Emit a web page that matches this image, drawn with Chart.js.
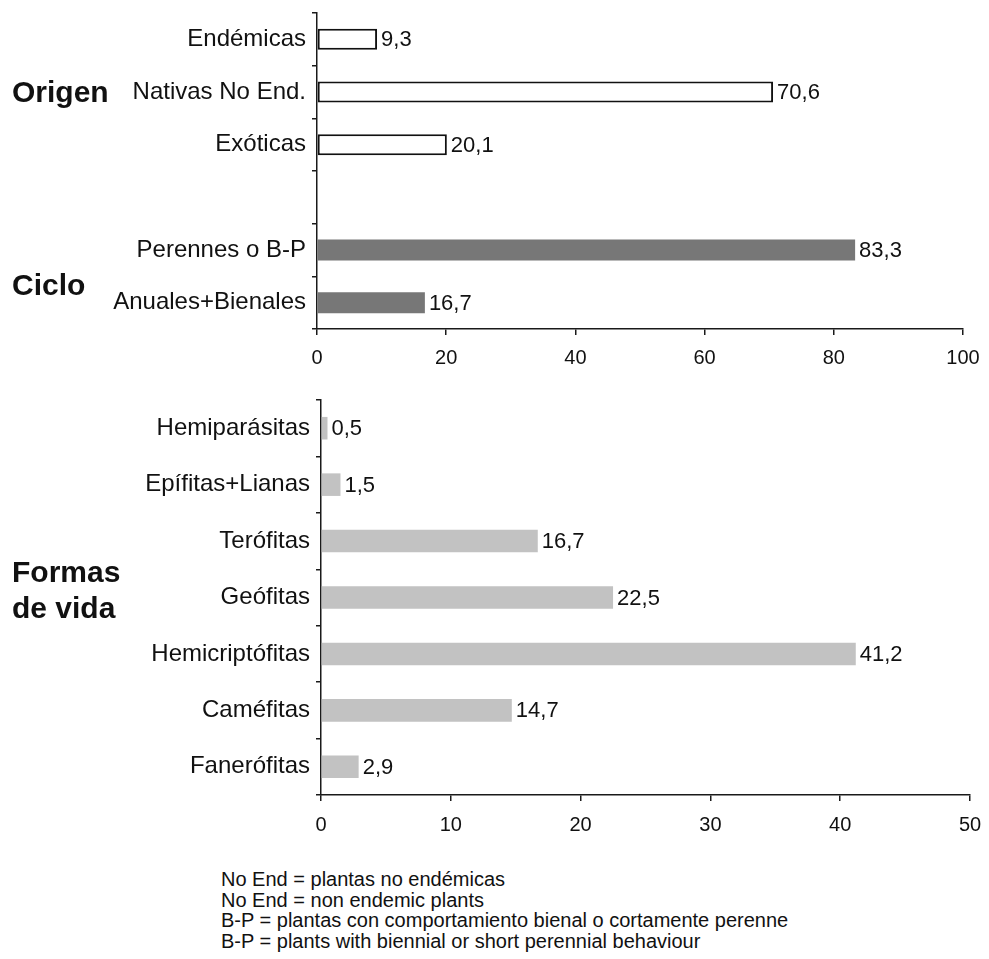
<!DOCTYPE html>
<html>
<head>
<meta charset="utf-8">
<script src="https://cdn.jsdelivr.net/npm/chart.js@4"></script>
<style>
  html, body { margin: 0; padding: 0; background: #fff; }
  body { width: 989px; height: 959px; position: relative; overflow: hidden;
         font-family: "Liberation Sans", Arial, sans-serif; color: #111; }
  .wrap { position: absolute; left: 0; }
  .group { position: absolute; left: 12px; font-weight: bold; font-size: 30px; line-height: 36px; color: #111; }
  .notes { position: absolute; left: 221px; top: 869px; font-size: 20px; line-height: 20.7px; color: #111; white-space: nowrap; }
</style>
</head>
<body>
<div class="wrap" style="top:0;"><canvas id="c1" width="989" height="380"></canvas></div>
<div class="wrap" style="top:380px;"><canvas id="c2" width="989" height="480"></canvas></div>
<div class="group" style="top:74px;">Origen</div>
<div class="group" style="top:267px;">Ciclo</div>
<div class="group" style="top:554px;">Formas<br>de vida</div>
<div class="notes">
No End = plantas no endémicas<br>
No End = non endemic plants<br>
B-P = plantas con comportamiento bienal o cortamente perenne<br>
B-P = plants with biennial or short perennial behaviour
</div>
<script>
// ---- data ----
const topCategories = ['Endémicas', 'Nativas No End.', 'Exóticas', '', 'Perennes o B-P', 'Anuales+Bienales'];
const topValues = [9.3, 70.6, 20.1, null, 83.3, 16.7];
const topTicks = [0, 20, 40, 60, 80, 100];

const lifeCategories = ['Hemiparásitas', 'Epífitas+Lianas', 'Terófitas', 'Geófitas', 'Hemicriptófitas', 'Caméfitas', 'Fanerófitas'];
const lifeValues = [0.5, 1.5, 16.7, 22.5, 41.2, 14.7, 2.9];
const lifeTicks = [0, 10, 20, 30, 40, 50];

const FONT = '"Liberation Sans", Arial, sans-serif';
const AX = '#1a1a1a';

const valueLabels = {
  id: 'valueLabels',
  afterDatasetsDraw(chart) {
    const ctx = chart.ctx;
    ctx.save();
    ctx.font = '22px ' + FONT;
    ctx.fillStyle = '#111';
    ctx.textAlign = 'left';
    ctx.textBaseline = 'middle';
    chart.data.datasets.forEach((ds, di) => {
      chart.getDatasetMeta(di).data.forEach((el, i) => {
        const v = ds.data[i];
        if (v === null || v === undefined) return;
        ctx.fillText(String(v).replace('.', ','), el.x + 4, el.y + 1);
      });
    });
    ctx.restore();
  }
};

function makeOptions(ticks, yWidth, xHeight, padTop, padRight, xPad) {
  return {
    responsive: false,
    animation: false,
    indexAxis: 'y',
    layout: { padding: { top: padTop, right: padRight, left: 0, bottom: 0 } },
    plugins: { legend: { display: false }, tooltip: { enabled: false } },
    scales: {
      x: {
        min: ticks[0], max: ticks[ticks.length - 1],
        afterBuildTicks: s => { s.ticks = ticks.map(v => ({ value: v })); },
        afterFit: s => { s.height = xHeight; s.paddingLeft = 0; s.paddingRight = 0; },
        border: { display: true, color: AX, width: 1.5 },
        grid: { display: true, drawOnChartArea: false, drawTicks: true, tickLength: 6, color: AX, lineWidth: 1.5 },
        ticks: { color: '#111', font: { family: FONT, size: 20 }, padding: xPad, maxRotation: 0 }
      },
      y: {
        afterFit: s => { s.width = yWidth; s.paddingTop = 0; s.paddingBottom = 0; },
        border: { display: true, color: AX, width: 1.5 },
        grid: { display: true, offset: true, drawOnChartArea: false, drawTicks: true, tickLength: 5, color: AX, lineWidth: 1.5 },
        ticks: { color: '#111', font: { family: FONT, size: 24 }, padding: 6, autoSkip: false }
      }
    }
  };
}

new Chart(document.getElementById('c1'), {
  type: 'bar',
  data: {
    labels: topCategories,
    datasets: [{
      data: topValues,
      backgroundColor: ctx => ctx.dataIndex < 3 ? '#ffffff' : '#777777',
      borderColor: ctx => ctx.dataIndex < 3 ? '#111111' : '#777777',
      borderWidth: ctx => ctx.dataIndex < 3 ? 2 : 0,
      borderSkipped: false,
      barPercentage: 0.4,
      categoryPercentage: 1.0
    }]
  },
  options: makeOptions(topTicks, 317, 51, 13, 26, 11),
  plugins: [valueLabels]
});

new Chart(document.getElementById('c2'), {
  type: 'bar',
  data: {
    labels: lifeCategories,
    datasets: [{
      data: lifeValues,
      backgroundColor: '#c2c2c2',
      borderWidth: 0,
      barPercentage: 0.4,
      categoryPercentage: 1.0
    }]
  },
  options: makeOptions(lifeTicks, 321, 65, 20, 19, 12),
  plugins: [valueLabels]
});
</script>
</body>
</html>
